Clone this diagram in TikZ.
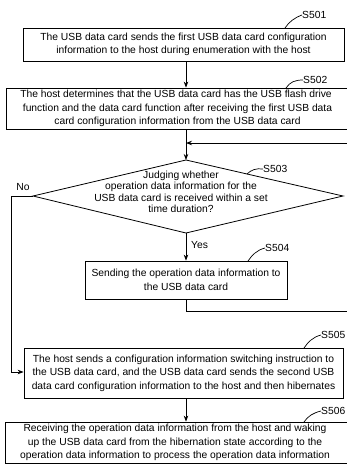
\documentclass[tikz,border=0pt]{standalone}
\usepackage{fontspec}
\setmainfont{Liberation Sans}
\usetikzlibrary{arrows.meta}
\begin{document}
\begin{tikzpicture}[x=1pt,y=-1pt,
  box/.style={draw, line width=0.8pt, inner sep=0pt, align=center, font=\fontsize{10.3}{13.5}\selectfont},
  txt/.style={inner sep=0pt, align=center, font=\fontsize{10.3}{11.5}\selectfont},
  lbl/.style={inner sep=0pt, anchor=west, font=\fontsize{10.3}{12}\selectfont},
  conn/.style={line width=0.8pt},
  arr/.style={conn, -{Stealth[length=6pt,width=4.5pt]}},
  tick/.style={line width=0.7pt}]
\useasboundingbox (0,0) rectangle (346,464);
\fill[white] (0,0) rectangle (346,464);

% boxes
\node[box, minimum width=321pt, minimum height=33pt] (s501) at (183.5,44.5)
  {The USB data card sends the first USB data card configuration\\information to the host during enumeration with the host};
\node[box, minimum width=343pt, minimum height=41pt] (s502) at (177.5,108.5)
  {\hspace*{-3pt}The host determines that the USB data card has the USB flash drive\\function and the data card function after receiving the first USB data\\card configuration information from the USB data card};

% decision
\coordinate (dT) at (186,160);
\coordinate (dR) at (343,196);
\coordinate (dB) at (186,233);
\coordinate (dL) at (33,196);
\draw[conn] (dT) -- (dR) -- (dB) -- (dL) -- cycle;
\node[txt] (dtext) at (181,192)
  {Judging whether\\operation data information for the\\USB data card is received within a set\\time duration?};

\node[box, minimum width=202pt, minimum height=38pt] (s504) at (186,280)
  {Sending the operation data information to\\the USB data card};
\node[box, minimum width=319pt, minimum height=50pt] (s505) at (183.5,373)
  {The host sends a configuration information switching instruction to\\the USB data card, and the USB data card sends the second USB\\data card configuration information to the host and then hibernates};
\node[box, minimum width=344pt, minimum height=41.5pt] (s506) at (177,442.75)
  {\hspace*{-4pt}Receiving the operation data information from the host and waking\\\hspace*{-4pt}up the USB data card from the hibernation state according to the\\\hspace*{-4pt}operation data information to process the operation data information};

% connectors
\draw[arr] (s501.south -| dT) -- (s502.north -| dT);
\draw[arr] (s502.south -| dT) -- (dT);
\draw[arr] (dB) -- (s504.north);
\coordinate (fbA) at (186,311);
\coordinate (fbB) at (349,311);
\coordinate (fbC) at (349,143);
\coordinate (fbD) at (186,143);
\draw[arr] (s504.south) -- (fbA) -- (fbB) -- (fbC) -- (fbD);
\coordinate (noA) at (11,196);
\coordinate (noB) at (11,372);
\draw[arr] (dL) -- (noA) -- (noB) -- (s505.west |- noB);
\draw[arr] (s505.south -| dT) -- (s506.north -| dT);

\node[txt] (nolbl) at (23,187) {No};
\node[txt, anchor=west] (yeslbl) at (191,245) {Yes};

% step labels
\node[lbl] (l501) at (302,15) {S501};
\draw[tick] (285,28) .. controls (289,22) and (294,18) .. (l501.west);
\node[lbl] (l502) at (303,80) {S502};
\draw[tick] (286,88) .. controls (290,82) and (295,80) .. (l502.west);
\node[lbl] (l503) at (263,169) {S503};
\draw[tick] (247,174) .. controls (251,170) and (256,168) .. (l503.west);
\node[lbl] (l504) at (265,248) {S504};
\draw[tick] (248,261) .. controls (252,255) and (257,250) .. (l504.west);
\node[lbl] (l505) at (321,335) {S505};
\draw[tick] (304,348) .. controls (308,342) and (313,337) .. (l505.west);
\node[lbl] (l506) at (321,411) {S506};
\draw[tick] (304,422) .. controls (308,416) and (313,413) .. (l506.west);
\end{tikzpicture}
\end{document}
